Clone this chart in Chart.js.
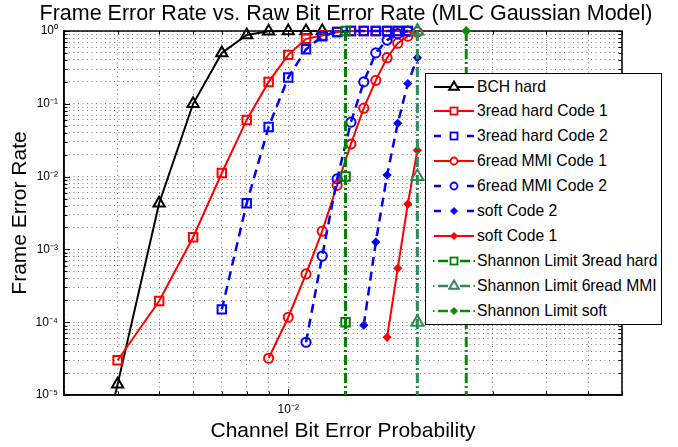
<!DOCTYPE html>
<html><head><meta charset="utf-8">
<script src="https://cdn.jsdelivr.net/npm/chart.js@4"></script>
<style>
html,body{margin:0;padding:0;background:#fff;}
#wrap{position:relative;width:678px;height:447px;overflow:hidden;}
#c{position:absolute;left:0;top:0;}
#title{position:absolute;left:0;top:0;width:692px;height:27px;line-height:27px;text-align:center;white-space:nowrap;font-family:'Liberation Sans',Arial,sans-serif;font-size:21.5px;color:#000;}
#legend{position:absolute;left:425px;top:73px;width:237px;height:252px;box-sizing:border-box;border:1.5px solid #000;background:#fff;font-family:'Liberation Sans',Arial,sans-serif;font-size:15.7px;color:#000;}
.row{position:absolute;left:0;height:20px;width:230px;}
.row svg{position:absolute;left:6px;top:0;}
.row span{position:absolute;left:51px;top:0;white-space:nowrap;line-height:20px;}
</style></head>
<body><div id="wrap"><canvas id="c" width="678" height="447"></canvas><div id="title">Frame Error Rate vs. Raw Bit Error Rate (MLC Gaussian Model)</div><div id="legend"></div></div>
<script>
// ---- data ----
const bchX = [3.5e-3, 4e-3, 5e-3, 6e-3, 7e-3, 8e-3, 9e-3, 1e-2, 1.1e-2, 1.2e-2];
const bchY = [5e-7, 1.4e-5, 4.3e-3, 0.1, 0.5, 0.88, 0.99, 1, 1, 1];

const hard3c1X = [4e-3, 5e-3, 6e-3, 7e-3, 8e-3, 9e-3, 1e-2, 1.1e-2, 1.2e-2, 1.3e-2, 1.4e-2, 1.5e-2, 1.6e-2, 1.7e-2, 1.8e-2, 1.9e-2];
const hard3c1Y = [3.0e-5, 1.95e-4, 1.47e-3, 1.12e-2, 0.06, 0.2, 0.47, 0.78, 0.87, 0.97, 1, 1, 1, 1, 1, 1];

const hard3c2X = [7e-3, 8e-3, 9e-3, 1e-2, 1.1e-2, 1.2e-2, 1.3e-2, 1.4e-2, 1.5e-2, 1.6e-2, 1.7e-2, 1.8e-2, 1.9e-2];
const hard3c2Y = [1.5e-4, 4.3e-3, 0.048, 0.23, 0.56, 0.85, 0.97, 1, 1, 1, 1, 1, 1];

const mmi6c1X = [9e-3, 1e-2, 1.1e-2, 1.2e-2, 1.3e-2, 1.4e-2, 1.5e-2, 1.6e-2, 1.7e-2, 1.8e-2, 1.9e-2, 2e-2];
const mmi6c1Y = [3.2e-5, 1.17e-4, 4.6e-4, 1.78e-3, 7.6e-3, 0.028, 0.087, 0.21, 0.43, 0.68, 0.85, 0.97];

const mmi6c2X = [1.1e-2, 1.2e-2, 1.3e-2, 1.4e-2, 1.5e-2, 1.6e-2, 1.7e-2, 1.8e-2, 1.9e-2];
const mmi6c2Y = [5.3e-5, 8.1e-4, 9.3e-3, 0.056, 0.2, 0.5, 0.75, 0.92, 1];

const softC2X = [1.5e-2, 1.6e-2, 1.7e-2, 1.8e-2, 1.9e-2, 2e-2];
const softC2Y = [9.1e-5, 1.26e-3, 0.0105, 0.054, 0.19, 0.43];

const softC1X = [1.7e-2, 1.8e-2, 1.9e-2, 2e-2];
const softC1Y = [6.2e-5, 5.5e-4, 4.2e-3, 0.023];

const shan3X = [1.36e-2, 1.36e-2, 1.36e-2, 1.36e-2];
const shan6X = [2e-2, 2e-2, 2e-2, 2e-2];
const shanSoftX = [2.6e-2, 2.6e-2, 2.6e-2, 2.6e-2];
const shanY = [1, 1e-2, 1e-4, 1e-6];

const xTickValues = [3e-3, 4e-3, 5e-3, 6e-3, 7e-3, 8e-3, 9e-3, 1e-2, 2e-2, 3e-2, 4e-2, 5e-2, 6e-2];
const xTickLabels = ['', '', '', '', '', '', '', '10⁻²', '', '', '', '', ''];

const yTickValues = [
  1e-5, 2e-5, 3e-5, 4e-5, 5e-5, 6e-5, 7e-5, 8e-5, 9e-5,
  1e-4, 2e-4, 3e-4, 4e-4, 5e-4, 6e-4, 7e-4, 8e-4, 9e-4,
  1e-3, 2e-3, 3e-3, 4e-3, 5e-3, 6e-3, 7e-3, 8e-3, 9e-3,
  1e-2, 2e-2, 3e-2, 4e-2, 5e-2, 6e-2, 7e-2, 8e-2, 9e-2,
  1e-1, 2e-1, 3e-1, 4e-1, 5e-1, 6e-1, 7e-1, 8e-1, 9e-1,
  1];
const yTickLabels = [
  '10⁻⁵', '', '', '', '', '', '', '', '',
  '10⁻⁴', '', '', '', '', '', '', '', '',
  '10⁻³', '', '', '', '', '', '', '', '',
  '10⁻²', '', '', '', '', '', '', '', '',
  '10⁻¹', '', '', '', '', '', '', '', '',
  '10⁰'];

const seriesNames = ['BCH hard', '3read hard Code 1', '3read hard Code 2', '6read MMI Code 1', '6read MMI Code 2',
  'soft Code 2', 'soft Code 1', 'Shannon Limit 3read hard', 'Shannon Limit 6read MMI', 'Shannon Limit soft'];

// ---- styles ----
const RED = '#ff0000', BLUE = '#0000ff', BLACK = '#000000', G1 = '#008000', G2 = '#2e8b57', G3 = '#0a8a0a';
const FONT = "'Liberation Sans', Arial, Helvetica, sans-serif";
Chart.defaults.font.family = FONT;
Chart.defaults.color = '#000';

function pts(xs, ys) { return xs.map((x, i) => ({x: x, y: ys[i]})); }

const styles = [
  {c: BLACK, dash: [], w: 2, ps: 'triangle', r: 6.5, fill: false},
  {c: RED, dash: [], w: 2, ps: 'rect', r: 6, fill: false},
  {c: BLUE, dash: [9, 6], w: 2.5, ps: 'rect', r: 6, fill: false},
  {c: RED, dash: [], w: 2, ps: 'circle', r: 4.6, fill: false},
  {c: BLUE, dash: [9, 6], w: 2.5, ps: 'circle', r: 4.6, fill: false},
  {c: BLUE, dash: [9, 6], w: 2.5, ps: 'rectRot', r: 3.2, fill: true},
  {c: RED, dash: [], w: 2, ps: 'rectRot', r: 3.2, fill: true},
  {c: G1, dash: [10, 3, 2, 3], w: 3, ps: 'rect', r: 6, fill: false},
  {c: G2, dash: [10, 3, 2, 3], w: 3, ps: 'triangle', r: 7, fill: false},
  {c: G3, dash: [10, 3, 2, 3], w: 3, ps: 'rectRot', r: 3.5, fill: true}
];
const seriesData = [
  pts(bchX, bchY), pts(hard3c1X, hard3c1Y), pts(hard3c2X, hard3c2Y), pts(mmi6c1X, mmi6c1Y), pts(mmi6c2X, mmi6c2Y),
  pts(softC2X, softC2Y), pts(softC1X, softC1Y), pts(shan3X, shanY), pts(shan6X, shanY), pts(shanSoftX, shanY)
];

const datasets = seriesData.map((d, i) => {
  const s = styles[i];
  return {
    label: seriesNames[i],
    data: d,
    showLine: true,
    borderColor: s.c,
    borderWidth: s.w,
    borderDash: s.dash,
    backgroundColor: s.c,
    pointStyle: s.ps,
    pointRadius: s.r,
    pointHoverRadius: s.r,
    pointBorderWidth: 2,
    pointBorderColor: s.c,
    pointBackgroundColor: s.fill ? s.c : 'rgba(0,0,0,0)',
    tension: 0,
    order: 20 - i,
    clip: {left: 12, top: 12, right: 12, bottom: 0}
  };
});

const framePlugin = {
  id: 'frame',
  beforeDatasetsDraw(chart) {
    const {ctx, chartArea: a, scales} = chart;
    const x = scales.x, y = scales.y;
    ctx.save();
    ctx.strokeStyle = '#000';
    ctx.lineWidth = 1;
    ctx.setLineDash([]);
    xTickValues.forEach((v, i) => {
      const px = Math.round(x.getPixelForValue(v)) + 0.5;
      const len = xTickLabels[i] ? 6 : 3.5;
      ctx.beginPath();
      ctx.moveTo(px, a.bottom); ctx.lineTo(px, a.bottom - len);
      ctx.moveTo(px, a.top); ctx.lineTo(px, a.top + len);
      ctx.stroke();
    });
    yTickValues.forEach((v, i) => {
      const py = Math.round(y.getPixelForValue(v)) + 0.5;
      const len = yTickLabels[i] ? 6 : 3.5;
      ctx.beginPath();
      ctx.moveTo(a.left, py); ctx.lineTo(a.left + len, py);
      ctx.moveTo(a.right, py); ctx.lineTo(a.right - len, py);
      ctx.stroke();
    });
    ctx.lineWidth = 1.5;
    ctx.strokeRect(a.left, a.top, a.right - a.left, a.bottom - a.top);
    ctx.restore();
  }
};

new Chart(document.getElementById('c'), {
  type: 'scatter',
  data: {datasets: datasets},
  plugins: [framePlugin],
  options: {
    responsive: false,
    animation: false,
    devicePixelRatio: 1,
    layout: {padding: {left: 0, right: 56, top: 31, bottom: 0}},
    plugins: {
      legend: {display: false},
      tooltip: {enabled: false},
      title: {display: false}
    },
    scales: {
      x: {
        type: 'logarithmic', min: 3e-3, max: 6e-2,
        afterBuildTicks: s => { s.ticks = xTickValues.map(v => ({value: v})); },
        afterFit: s => { s.height = 52; },
        ticks: {autoSkip: false, maxRotation: 0, minRotation: 0, padding: 7, color: '#000',
          font: {size: 12}, callback: (v, i) => xTickLabels[i]},
        grid: {color: 'rgba(0,0,0,0.5)', lineWidth: 1, drawTicks: false},
        border: {display: true, color: '#000', width: 1.5, dash: [1, 3.5]},
        title: {display: true, text: 'Channel Bit Error Probability', color: '#000',
          font: {size: 21, family: FONT}, padding: {top: 0, bottom: 3}}
      },
      y: {
        type: 'logarithmic', min: 1e-5, max: 1,
        afterBuildTicks: s => { s.ticks = yTickValues.map(v => ({value: v})); },
        afterFit: s => { s.width = 64; },
        ticks: {autoSkip: false, padding: 6, color: '#000', font: {size: 12},
          callback: (v, i) => yTickLabels[i]},
        grid: {color: 'rgba(0,0,0,0.5)', lineWidth: 1, drawTicks: false},
        border: {display: true, color: '#000', width: 1.5, dash: [1, 3.5]},
        title: {display: true, text: 'Frame Error Rate', color: '#000',
          font: {size: 21, family: FONT}, padding: {top: 8, bottom: 0}}
      }
    }
  }
});

// ---- legend (HTML, real text) ----
function legendSvg(i) {
  const s = styles[i];
  const c = s.c;
  let lines = '';
  if (s.dash.length === 0) {
    lines = `<line x1="2" y1="10" x2="42" y2="10" stroke="${c}" stroke-width="${s.w}"/>`;
  } else if (s.dash.length === 2) {
    lines = `<line x1="2" y1="10" x2="9" y2="10" stroke="${c}" stroke-width="${s.w}"/>` +
            `<line x1="35" y1="10" x2="42" y2="10" stroke="${c}" stroke-width="${s.w}"/>`;
  } else {
    lines = `<line x1="1" y1="10" x2="2.5" y2="10" stroke="${c}" stroke-width="2"/>` +
            `<line x1="6" y1="10" x2="16" y2="10" stroke="${c}" stroke-width="2.5"/>` +
            `<line x1="28" y1="10" x2="38" y2="10" stroke="${c}" stroke-width="2.5"/>` +
            `<line x1="41.5" y1="10" x2="43" y2="10" stroke="${c}" stroke-width="2"/>`;
  }
  let m = '';
  const fill = s.fill ? c : '#fff';
  if (s.ps === 'triangle') {
    const r = 5.5;
    m = `<polygon points="22,${10 - r} ${22 - r * 0.866},${10 + r / 2} ${22 + r * 0.866},${10 + r / 2}" fill="${fill}" stroke="${c}" stroke-width="2"/>`;
  } else if (s.ps === 'rect') {
    m = `<rect x="18.5" y="6.5" width="7" height="7" fill="${fill}" stroke="${c}" stroke-width="1.8"/>`;
  } else if (s.ps === 'circle') {
    m = `<circle cx="22" cy="10" r="3.5" fill="${fill}" stroke="${c}" stroke-width="1.8"/>`;
  } else {
    m = `<polygon points="22,6.5 25.5,10 22,13.5 18.5,10" fill="${c}" stroke="${c}" stroke-width="1"/>`;
  }
  return `<svg width="44" height="20" viewBox="0 0 44 20">${lines}${m}</svg>`;
}
const leg = document.getElementById('legend');
seriesNames.forEach((name, i) => {
  const row = document.createElement('div');
  row.className = 'row';
  row.style.top = (12.5 + i * 24.9 - 10) + 'px';
  row.innerHTML = legendSvg(i) + `<span>${name}</span>`;
  leg.appendChild(row);
});
</script>
</body></html>
